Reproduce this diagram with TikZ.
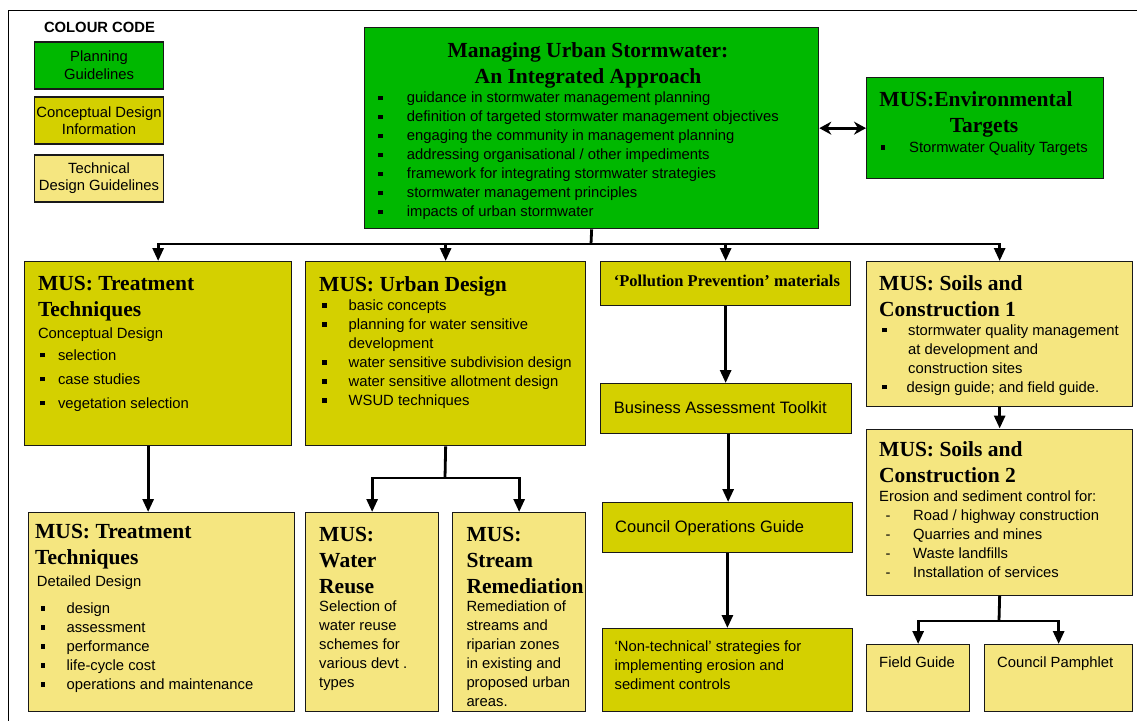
\documentclass[tikz,border=0pt]{standalone}
\usepackage{fontspec}
\setmainfont{Liberation Serif}
\setsansfont{Liberation Sans}
\usetikzlibrary{arrows.meta}

\definecolor{plangreen}{RGB}{0,184,0}
\definecolor{conceptolive}{RGB}{212,208,0}
\definecolor{techyellow}{RGB}{245,230,128}

\newcommand{\sqitem}[2][26pt]{\makebox[#1][l]{\rule[2.6pt]{4.5pt}{4.5pt}}#2}
\newcommand{\dashitem}[2][27.5pt]{\makebox[#1][l]{-}#2}

\tikzset{
  mbox/.style={draw=black!90, line width=1.3pt, inner sep=0pt, anchor=north west},
  plan/.style={mbox, fill=plangreen},
  concept/.style={mbox, fill=conceptolive},
  techn/.style={mbox, fill=techyellow},
  wh/.style 2 args={minimum width=#1, minimum height=#2},
  ttl/.style={inner sep=0pt, anchor=base west, align=left, font=\bfseries\fontsize{21.5}{26}\selectfont},
  txt/.style={inner sep=0pt, anchor=base west, align=left, font=\sffamily\fontsize{14.8}{19}\selectfont},
  keytxt/.style={anchor=center, align=center, font=\sffamily\fontsize{14.8}{17.5}\selectfont},
  conn/.style={line width=2.8pt},
  conntip/.style={conn, -{Triangle[length=13pt,width=11pt]}},
  dblconn/.style={conn, {Stealth[length=12pt,width=13pt]}-{Stealth[length=12pt,width=13pt]}},
}

\begin{document}
\begin{tikzpicture}[x=1pt,y=-1pt]
    \useasboundingbox (0,0) rectangle (1137,720);

    % frame
    \draw[line width=0.8pt] (8,730) -- (8,10) -- (1145,10);

    % colour code
    \node[inner sep=0pt, anchor=base, font=\sffamily\bfseries\fontsize{14.8}{17}\selectfont] (key) at (99.5,32.7) {COLOUR CODE};
    \node[plan, wh={129}{47}, keytxt] (keyplan) at (99,65.4) {Planning\\Guidelines};
    \node[concept, wh={129}{47}, keytxt] (keyconcept) at (99,120.5) {Conceptual Design\\Information};
    \node[techn, wh={129}{47}, keytxt] (keytech) at (99,178.4) {Technical\\Design Guidelines};

    % planning (text nodes sit on the baseline of their last line)
    \node[plan, wh={454}{201}] (main) at (364,27) {};
    \node[ttl, anchor=base, align=center] (maintitle) at (588,83) {Managing Urban Stormwater:\\An Integrated Approach};
    \node[txt] (mainlist) at (378,216.6) {\sqitem[28.7pt]{guidance in stormwater management planning}\\
        \sqitem[28.7pt]{definition of targeted stormwater management objectives}\\
        \sqitem[28.7pt]{engaging the community in management planning}\\
        \sqitem[28.7pt]{addressing organisational / other impediments}\\
        \sqitem[28.7pt]{framework for integrating stormwater strategies}\\
        \sqitem[28.7pt]{stormwater management principles}\\
        \sqitem[28.7pt]{impacts of urban stormwater}};

    \node[plan, wh={237}{101}] (env) at (866,77) {};
    \node[ttl, anchor=base, align=center] (envtitle) at (976,132.7) {MUS:Environmental\\\hspace*{16pt}Targets};
    \node[txt] (envlist) at (880.5,152.5) {\sqitem[28.5pt]{Stormwater Quality Targets}};

    % conceptual design
    \node[concept, wh={267}{184}] (tt1) at (24,261) {};
    \node[ttl] (tt1title) at (37.8,316.7) {MUS: Treatment\\Techniques};
    \node[txt] (tt1list) at (37.8,408) {Conceptual Design\\[3pt]
        \hspace*{2pt}\sqitem[18pt]{selection}\\[5pt]
        \hspace*{2pt}\sqitem[18pt]{case studies}\\[5pt]
        \hspace*{2pt}\sqitem[18pt]{vegetation selection}};

    \node[concept, wh={280}{184}] (ud) at (305,261) {};
    \node[ttl] (udtitle) at (319,291) {MUS: Urban Design};
    \node[txt] (udlist) at (322,405.5) {\sqitem[26.5pt]{basic concepts}\\
        \sqitem[26.5pt]{planning for water sensitive}\\
        \hspace*{26.5pt}development\\
        \sqitem[26.5pt]{water sensitive subdivision design}\\
        \sqitem[26.5pt]{water sensitive allotment design}\\
        \sqitem[26.5pt]{WSUD techniques}};

    \node[concept, wh={250}{44}] (pp) at (600,261) {};
    \node[inner sep=0pt, anchor=base west, font=\bfseries\fontsize{16.5}{19}\selectfont] (pptitle) at (613.7,286) {‘Pollution Prevention’ materials};

    \node[concept, wh={251}{50}] (bat) at (600,383) {};
    \node[txt, font=\sffamily\fontsize{16.5}{19}\selectfont] (battxt) at (613.7,413) {Business Assessment Toolkit};

    \node[concept, wh={250.5}{50}] (cog) at (601.5,502) {};
    \node[txt, font=\sffamily\fontsize{16.5}{19}\selectfont] (cogtxt) at (615,532.5) {Council Operations Guide};

    \node[concept, wh={250.5}{83}] (nt) at (601.5,628) {};
    \node[txt] (nttxt) at (614.4,689) {‘Non-technical’ strategies for\\implementing erosion and\\sediment controls};

    % technical design
    \node[techn, wh={266}{145}] (sc1) at (866,261) {};
    \node[ttl] (sc1title) at (879,316) {MUS: Soils and\\Construction 1};
    \node[txt] (sc1list) at (882,392) {\sqitem[26pt]{stormwater quality management}\\
        \hspace*{26pt}at development and\\
        \hspace*{26pt}construction sites\\
        \sqitem[24.5pt]{design guide; and field guide.}};

    \node[techn, wh={266}{166}] (sc2) at (866,428.5) {};
    \node[ttl] (sc2title) at (879,482.5) {MUS: Soils and\\Construction 2};
    \node[txt] (sc2list) at (879,577.5) {Erosion and sediment control for:\\
        \hspace*{6.5pt}\dashitem{Road / highway construction}\\
        \hspace*{6.5pt}\dashitem{Quarries and mines}\\
        \hspace*{6.5pt}\dashitem{Waste landfills}\\
        \hspace*{6.5pt}\dashitem{Installation of services}};

    \node[techn, wh={103}{67}] (field) at (866,644) {};
    \node[txt] (fieldtxt) at (879,667) {Field Guide};
    \node[techn, wh={148}{67}] (pamph) at (984,644) {};
    \node[txt] (pamphtxt) at (997,667) {Council Pamphlet};

    \node[techn, wh={266}{199}] (tt2) at (28,512) {};
    \node[ttl] (tt2title) at (35,564.5) {MUS: Treatment\\Techniques};
    \node[txt] (tt2list) at (36.7,689.5) {Detailed Design\\[8pt]
        \hspace*{3.7pt}\sqitem{design}\\
        \hspace*{3.7pt}\sqitem{assessment}\\
        \hspace*{3.7pt}\sqitem{performance}\\
        \hspace*{3.7pt}\sqitem{life-cycle cost}\\
        \hspace*{3.7pt}\sqitem{operations and maintenance}};

    \node[techn, wh={133}{199}] (wr) at (305,512) {};
    \node[ttl] (wrtitle) at (319,593) {MUS:\\Water\\Reuse};
    \node[txt] (wrtxt) at (319,687.5) {Selection of\\water reuse\\schemes for\\various devt .\\types};

    \node[techn, wh={133}{199}] (sr) at (452,512) {};
    \node[ttl] (srtitle) at (466.3,593) {MUS:\\Stream\\Remediation};
    \node[txt] (srtxt) at (466.3,706.5) {Remediation of\\streams and\\riparian zones\\in existing and\\proposed urban\\areas.};

    % connectors
    \coordinate (bus) at (591,244);
    \coordinate (udfork) at (445,478);
    \coordinate (scfork) at (999,621);

    \draw[dblconn] (main.east) -- (env.west);
    \draw[conn] (main.south) -- (bus);
    \draw[conntip] (sc1.north |- bus) -- (tt1.north |- bus) -- (tt1.north);
    \draw[conntip] (tt1.north |- bus) -- (sc1.north |- bus) -- (sc1.north);
    \draw[conntip] (ud.north |- bus) -- (ud.north);
    \draw[conntip] (pp.north |- bus) -- (pp.north);

    \draw[conntip] ([xshift=-10]tt1.south) -- ([xshift=-10]tt1.south |- tt2.north);
    \draw[conn] (ud.south) -- (udfork);
    \draw[conntip] (udfork) -| (wr.north);
    \draw[conntip] (udfork) -| (sr.north);

    \draw[conntip] (pp.south) -- (pp.south |- bat.north);
    \draw[conntip] ([xshift=2]bat.south) -- ([xshift=2]bat.south |- cog.north);
    \draw[conntip] (cog.south) -- (cog.south |- nt.north);

    \draw[conntip] (sc1.south) -- (sc2.north);
    \draw[conn] (sc2.south) -- (scfork);
    \draw[conntip] (scfork) -| (field.north);
    \draw[conntip] (scfork) -| (pamph.north);

\end{tikzpicture}
\end{document}
